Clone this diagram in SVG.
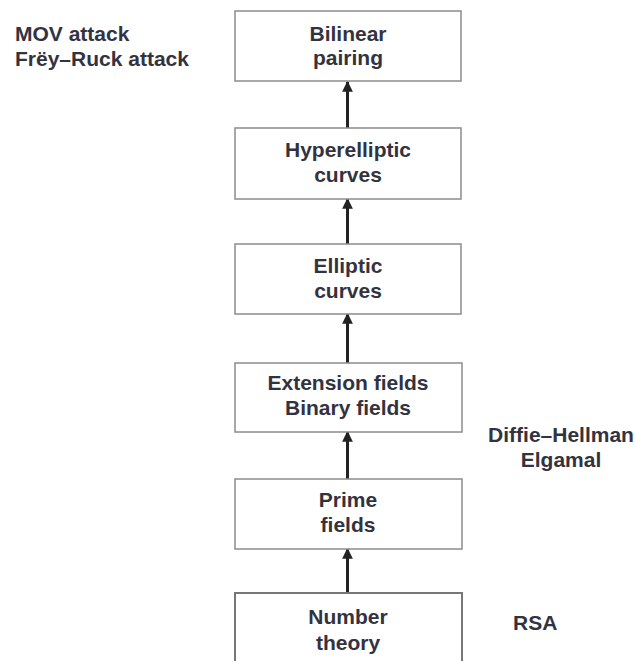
<svg xmlns="http://www.w3.org/2000/svg" width="635" height="661" viewBox="0 0 635 661">
<defs>
<style>
.box{fill:#fff;stroke:#8c8c8c;stroke-width:1.5}
.t{font-family:"Liberation Sans",Arial,sans-serif;font-weight:bold;font-size:21px;fill:#333340}
.c{text-anchor:middle}
.conn{stroke:#222;stroke-width:3;fill:none;marker-end:url(#ah)}
</style>
<marker id="ah" viewBox="0 0 10 10" refX="9" refY="5" markerWidth="3.6" markerHeight="3.6" orient="auto" markerUnits="strokeWidth">
<path d="M0,0 L10,5 L0,10 z" fill="#222"/>
</marker>
</defs>
<rect width="635" height="661" fill="#fff"/>
<g id="connectors">
<line class="conn" x1="347.5" y1="128" x2="347.5" y2="82"/>
<line class="conn" x1="347.5" y1="244" x2="347.5" y2="199"/>
<line class="conn" x1="347.5" y1="363" x2="347.5" y2="314"/>
<line class="conn" x1="347.5" y1="479" x2="347.5" y2="432"/>
<line class="conn" x1="347.5" y1="593" x2="347.5" y2="549"/>
</g>
<g id="bilinear">
<rect class="box" x="235" y="11" width="226" height="70"/>
<text class="t c" x="348" y="41">Bilinear</text>
<text class="t c" x="348" y="65">pairing</text>
</g>
<g id="hyperelliptic">
<rect class="box" x="235" y="128" width="226" height="71"/>
<text class="t c" x="348" y="157">Hyperelliptic</text>
<text class="t c" x="348" y="182">curves</text>
</g>
<g id="elliptic">
<rect class="box" x="235" y="244" width="226" height="70"/>
<text class="t c" x="348" y="273">Elliptic</text>
<text class="t c" x="348" y="298">curves</text>
</g>
<g id="extension">
<rect class="box" x="235" y="363" width="227" height="69"/>
<text class="t c" x="348" y="390">Extension fields</text>
<text class="t c" x="348" y="415">Binary fields</text>
</g>
<g id="prime">
<rect class="box" x="235" y="479" width="227" height="70"/>
<text class="t c" x="348" y="507">Prime</text>
<text class="t c" x="348" y="532">fields</text>
</g>
<g id="number">
<rect x="235" y="593" width="227" height="80" fill="#fff" stroke="#777" stroke-width="2"/>
<text class="t c" x="348" y="624">Number</text>
<text class="t c" x="348" y="650">theory</text>
</g>
<g id="attacks">
<text class="t" x="15" y="41">MOV attack</text>
<text class="t" x="15" y="66">Frëy–Ruck attack</text>
</g>
<g id="diffie">
<text class="t c" x="561" y="442">Diffie–Hellman</text>
<text class="t c" x="561" y="467">Elgamal</text>
</g>
<g id="rsa">
<text class="t" x="513" y="630">RSA</text>
</g>
</svg>
